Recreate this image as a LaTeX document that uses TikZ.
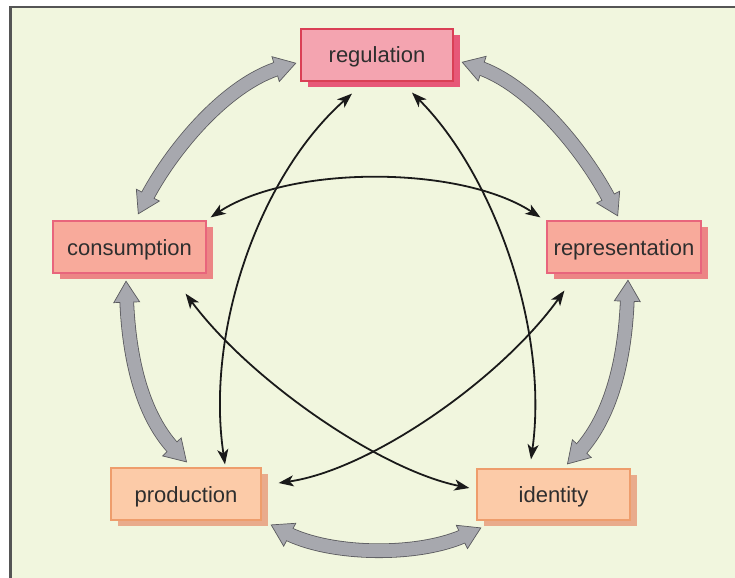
\documentclass[tikz,border=0pt]{standalone}
\usepackage{fontspec}
\setmainfont{Liberation Sans}
\usetikzlibrary{arrows.meta}
\definecolor{bg}{HTML}{F1F6DE}
\definecolor{framec}{HTML}{555555}
\definecolor{regfill}{HTML}{F4A4B0}
\definecolor{regdraw}{HTML}{DA3F55}
\definecolor{regshadow}{HTML}{E75878}
\definecolor{midfill}{HTML}{F8AA9B}
\definecolor{middraw}{HTML}{E8657C}
\definecolor{midshadow}{HTML}{EC8585}
\definecolor{lowfill}{HTML}{FCCBA8}
\definecolor{lowdraw}{HTML}{EE9D6C}
\definecolor{lowshadow}{HTML}{E9AB8C}
\definecolor{ggray}{HTML}{A7A8AE}
\definecolor{gdark}{HTML}{5A5A5E}
\definecolor{txt}{HTML}{2E2E2E}
\definecolor{blk}{HTML}{1A1A1A}
\tikzset{
  box/.style={inner sep=0pt, minimum height=52bp, line width=1.2bp, text=txt,
    text height=16bp, text depth=0bp,
    font=\fontsize{22bp}{26bp}\selectfont},
  regbox/.style={box, fill=regfill, draw=regdraw,
    preaction={fill=regshadow, transform canvas={shift={(7,6)}}}},
  midbox/.style={box, fill=midfill, draw=middraw,
    preaction={fill=midshadow, transform canvas={shift={(7,6)}}}},
  lowbox/.style={box, fill=lowfill, draw=lowdraw,
    preaction={fill=lowshadow, transform canvas={shift={(7,6)}}}},
  gtip/.style={ggray, line width=0.6bp,
    {Triangle[length=22bp,width=27bp,fill=ggray,color=gdark,line width=0.7bp]}-{Triangle[length=22bp,width=27bp,fill=ggray,color=gdark,line width=0.7bp]}},
  gout/.style={gdark, line width=14.6bp, shorten <=16bp, shorten >=16bp},
  gin/.style={ggray, line width=13bp, shorten <=16bp, shorten >=16bp},
  blkline/.style={blk, line width=1.8bp,
    {Stealth[length=15bp,width=11bp,inset=4bp]}-{Stealth[length=15bp,width=11bp,inset=4bp]}}
}
\newcommand\garrow[4]{%
  \draw[gout] #1 .. controls #2 and #3 .. #4;
  \draw[gtip] #1 .. controls #2 and #3 .. #4;
  \draw[gin] #1 .. controls #2 and #3 .. #4;
}
\begin{document}
\begin{tikzpicture}[x=1bp,y=-1bp]
\useasboundingbox (0,0) rectangle (735,578);
\fill[white] (0,0) rectangle (735,578);
\fill[bg] (10.5,7) rectangle (745,590);
\draw[framec, line width=2.6bp] (10.5,590) -- (10.5,7) -- (745,7);

\node[regbox, minimum width=152bp] (reg) at (377,55) {regulation};
\node[midbox, minimum width=153bp] (cons) at (129.5,247) {consumption};
\node[midbox, minimum width=154bp] (rep) at (624,247) {representation};
\node[lowbox, minimum width=150bp] (prod) at (186,494) {production};
\node[lowbox, minimum width=153bp, minimum height=51bp] (id) at (553.5,494.5) {identity};

% grey block arrows
\garrow{([shift={(-4,8)}]reg.west)}{(225,84)}{(170,152)}{([shift={(8.5,-6)}]cons.north)}
\garrow{([shift={(8,7)}]reg.east)}{(530,84)}{(585,152)}{([shift={(-6,-4)}]rep.north)}
\garrow{([shift={(-3.5,7)}]cons.south)}{(128,340)}{(136,410)}{([shift={(1,-5)}]prod.north)}
\garrow{([shift={(4,6)}]rep.south)}{(626,340)}{(618,410)}{([shift={(13.5,-4)}]id.north)}
\garrow{([shift={(9,4)}]prod.south east)}{(330,556)}{(420,557)}{([shift={(5,7)}]id.south west)}

% black curves
\draw[blkline] ([shift={(4,-3)}]cons.north east) .. controls (290,165) and (460,165) .. ([shift={(-6,-3)}]rep.north west);
\draw[blkline] ([shift={(-25,12)}]reg.south) .. controls (260,175) and (205,330) .. ([shift={(39,-3)}]prod.north);
\draw[blkline] ([shift={(35,11)}]reg.south) .. controls (494,175) and (549,330) .. ([shift={(-22.5,-9)}]id.north);
\draw[blkline] ([shift={(-21,20)}]cons.south east) .. controls (250,380) and (380,470) .. ([shift={(-7,-6.5)}]id.west);
\draw[blkline] ([shift={(18,17)}]rep.south west) .. controls (500,380) and (370,470) .. ([shift={(17,-11)}]prod.east);
\end{tikzpicture}
\end{document}
